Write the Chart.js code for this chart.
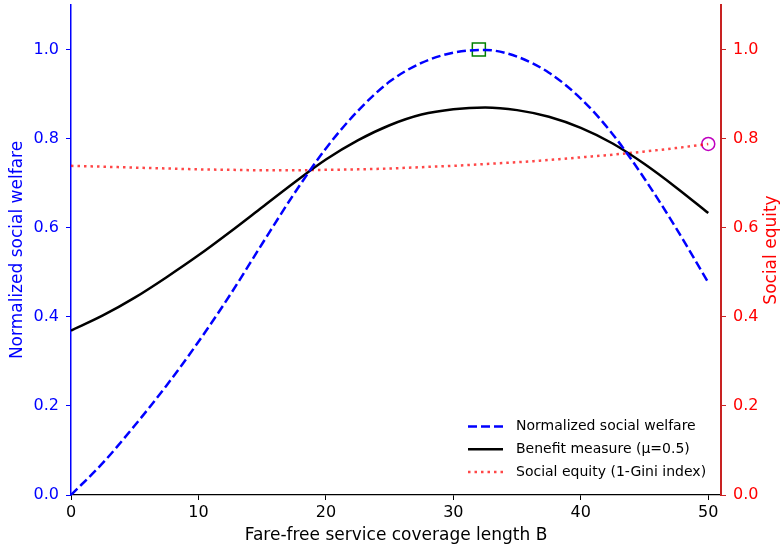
<!DOCTYPE html>
<html>
<head>
<meta charset="utf-8">
<script src="https://cdn.jsdelivr.net/npm/chart.js@4/dist/chart.umd.min.js"></script>
<style>
  html, body { margin: 0; padding: 0; background: #ffffff; }
  #wrap { width: 782px; height: 552px; }
</style>
</head>
<body>
<div id="wrap"><canvas id="c" width="782" height="552"></canvas></div>
<script>
// Fare-free coverage length B (x values of the sampled curves)
const coverageB = [0, 2.5, 5, 7.5, 10, 12.5, 15, 17.5, 20, 22.5, 25, 27.5, 30, 32.5, 35, 37.5, 40, 42.5, 45, 47.5, 50];
// Normalized social welfare (left axis)
const socialWelfare = [0.000, 0.072, 0.156, 0.246, 0.344, 0.450, 0.564, 0.676, 0.778, 0.862, 0.928, 0.970, 0.993, 0.999, 0.984, 0.948, 0.890, 0.810, 0.710, 0.598, 0.477];
// Benefit measure with mu = 0.5 (left axis)
const benefitMeasure = [0.369, 0.403, 0.443, 0.489, 0.538, 0.591, 0.646, 0.701, 0.753, 0.796, 0.830, 0.854, 0.866, 0.870, 0.864, 0.849, 0.824, 0.789, 0.743, 0.690, 0.633];
// Social equity, 1 - Gini index (right axis)
const socialEquity = [0.739, 0.737, 0.735, 0.733, 0.731, 0.730, 0.729, 0.729, 0.730, 0.731, 0.733, 0.736, 0.739, 0.743, 0.747, 0.752, 0.758, 0.764, 0.771, 0.779, 0.788];

// Highlighted optima
const welfarePeak = { x: 32, y: 1.0 };
const equityPeak = { x: 50, y: 0.788 };

// Tick values
const xTicks = [0, 10, 20, 30, 40, 50];
const yTicks = [0, 0.2, 0.4, 0.6, 0.8, 1.0];

const seriesNames = ['Normalized social welfare', 'Benefit measure (\u03bc=0.5)', 'Social equity (1-Gini index)'];

const FONT = '"DejaVu Sans", "Liberation Sans", sans-serif';
const BLUE = '#0000ff';
const RED = '#ff0000';
const RED_SPINE = '#c82222';
const EQUITY_LINE = 'rgba(255, 0, 0, 0.72)';
const LW = 2.5;
const DASHED = [9, 4];
const DOTTED = [2.5, 4];

const pts = (ys) => coverageB.map((b, i) => ({ x: b, y: ys[i] }));

const innerLegend = {
  id: 'innerLegend',
  afterDraw(chart) {
    const ctx = chart.ctx;
    const ca = chart.chartArea;
    const x0 = ca.right - 253;
    const y0 = ca.bottom - 68.5;
    const styles = [
      { color: BLUE, dash: DASHED },
      { color: '#000000', dash: [] },
      { color: EQUITY_LINE, dash: DOTTED }
    ];
    ctx.save();
    ctx.font = '14px ' + FONT;
    ctx.textBaseline = 'middle';
    ctx.textAlign = 'left';
    seriesNames.forEach((name, i) => {
      const y = y0 + i * 22.7;
      ctx.beginPath();
      ctx.setLineDash(styles[i].dash);
      ctx.strokeStyle = styles[i].color;
      ctx.lineWidth = LW;
      ctx.moveTo(x0, y);
      ctx.lineTo(x0 + 35, y);
      ctx.stroke();
      ctx.setLineDash([]);
      ctx.fillStyle = '#000000';
      ctx.fillText(name, x0 + 48, y);
    });
    // right axis title, reading bottom to top
    ctx.save();
    ctx.translate(772, (ca.top + ca.bottom) / 2);
    ctx.rotate(-Math.PI / 2);
    ctx.font = '17px ' + FONT;
    ctx.fillStyle = RED;
    ctx.textAlign = 'center';
    ctx.textBaseline = 'middle';
    ctx.fillText('Social equity', 0, 0);
    ctx.restore();
    ctx.restore();
  }
};

new Chart(document.getElementById('c'), {
  type: 'line',
  data: {
    datasets: [
      {
        label: seriesNames[0],
        data: pts(socialWelfare),
        yAxisID: 'y',
        borderColor: BLUE,
        borderWidth: LW,
        borderDash: DASHED,
        pointRadius: 0,
        cubicInterpolationMode: 'monotone',
        fill: false
      },
      {
        label: seriesNames[1],
        data: pts(benefitMeasure),
        yAxisID: 'y',
        borderColor: '#000000',
        borderWidth: LW,
        pointRadius: 0,
        cubicInterpolationMode: 'monotone',
        fill: false
      },
      {
        label: seriesNames[2],
        data: pts(socialEquity),
        yAxisID: 'y2',
        borderColor: EQUITY_LINE,
        borderWidth: LW,
        borderDash: DOTTED,
        pointRadius: 0,
        cubicInterpolationMode: 'monotone',
        fill: false
      },
      {
        label: 'welfare max',
        data: [welfarePeak],
        yAxisID: 'y',
        showLine: false,
        pointStyle: 'rect',
        pointRadius: 9.2,
        pointBorderWidth: 1.5,
        pointBorderColor: '#008000',
        pointBackgroundColor: 'rgba(0,0,0,0)'
      },
      {
        label: 'equity max',
        data: [equityPeak],
        yAxisID: 'y2',
        showLine: false,
        pointStyle: 'circle',
        pointRadius: 6.5,
        pointBorderWidth: 1.5,
        pointBorderColor: '#bf00bf',
        pointBackgroundColor: 'rgba(0,0,0,0)'
      }
    ]
  },
  options: {
    responsive: false,
    animation: false,
    devicePixelRatio: 1,
    layout: { autoPadding: false, padding: { top: 5, left: 0, right: 0, bottom: 0 } },
    plugins: {
      legend: { display: false },
      tooltip: { enabled: false }
    },
    scales: {
      x: {
        type: 'linear',
        min: 0,
        max: 51,
        afterBuildTicks: (s) => { s.ticks = xTicks.map(v => ({ value: v })); },
        afterFit: (s) => { s.height = 57; s.paddingLeft = 0; s.paddingRight = 0; },
        grid: { display: true, drawOnChartArea: false, drawTicks: true, tickLength: 5, tickColor: '#000000', tickWidth: 1 },
        border: { display: true, color: '#000000', width: 1.3 },
        ticks: { color: '#000000', font: { family: FONT, size: 16 }, padding: 3, maxRotation: 0, callback: (v) => String(v) },
        title: { display: true, text: 'Fare-free service coverage length B', color: '#000000', font: { family: FONT, size: 17 }, padding: { top: 0, bottom: 5.8 } }
      },
      y: {
        type: 'linear',
        position: 'left',
        min: 0,
        max: 1.1,
        afterBuildTicks: (s) => { s.ticks = yTicks.map(v => ({ value: v })); },
        afterFit: (s) => { s.width = 71; s.paddingTop = 0; s.paddingBottom = 0; },
        grid: { display: true, drawOnChartArea: false, drawTicks: true, tickLength: 5, tickColor: BLUE, tickWidth: 1 },
        border: { display: true, color: BLUE, width: 1.5 },
        ticks: { color: BLUE, font: { family: FONT, size: 16 }, padding: 7, callback: (v) => Number(v).toFixed(1) },
        title: { display: true, text: 'Normalized social welfare', color: BLUE, font: { family: FONT, size: 17 }, padding: { top: 7.8, bottom: 0 } }
      },
      y2: {
        type: 'linear',
        position: 'right',
        min: 0,
        max: 1.1,
        afterBuildTicks: (s) => { s.ticks = yTicks.map(v => ({ value: v })); },
        afterFit: (s) => { s.width = 61; s.paddingTop = 0; s.paddingBottom = 0; },
        grid: { display: true, drawOnChartArea: false, drawTicks: true, tickLength: 5, tickColor: RED_SPINE, tickWidth: 1 },
        border: { display: true, color: RED_SPINE, width: 2 },
        ticks: { color: RED, font: { family: FONT, size: 16 }, padding: 7, callback: (v) => Number(v).toFixed(1) },
        title: { display: false }
      }
    }
  },
  plugins: [innerLegend]
});
</script>
</body>
</html>
